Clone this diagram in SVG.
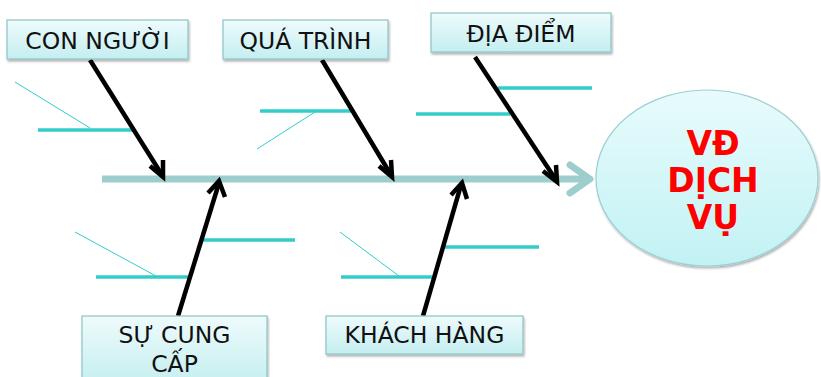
<svg xmlns="http://www.w3.org/2000/svg" width="821" height="377" viewBox="0 0 821 377">
<defs>
<linearGradient id="boxg" x1="0" y1="0" x2="0" y2="1">
<stop offset="0" stop-color="#eefbfc"/>
<stop offset="1" stop-color="#c4eef0"/>
</linearGradient>
<linearGradient id="ellg" x1="0" y1="0" x2="0" y2="1">
<stop offset="0" stop-color="#e8fbfc"/>
<stop offset="1" stop-color="#c2f2f4"/>
</linearGradient>
<filter id="sh" x="-10%" y="-10%" width="130%" height="140%">
<feDropShadow dx="1" dy="2" stdDeviation="1.2" flood-color="#000" flood-opacity="0.3"/>
</filter>
</defs>
<style>
.box{fill:url(#boxg);stroke:#8fc3c4;stroke-width:1.2;filter:url(#sh)}
.lbl{font-family:"DejaVu Sans",Verdana,sans-serif;font-size:23.5px;fill:#111;text-anchor:middle}
.arr{stroke:#000;stroke-width:4.5;fill:none;stroke-linecap:butt}
.head{stroke:#000;stroke-width:4.5;fill:none;stroke-linejoin:miter}
.bone{stroke:#33cccc;stroke-width:3.5}
.thin{stroke:#33cccc;stroke-width:1}
.eff{font-family:"DejaVu Sans",Verdana,sans-serif;font-size:33px;font-weight:bold;fill:#ff0000;text-anchor:middle}
</style>
<rect width="821" height="377" fill="#fff"/>
<g id="sub-bones">
<line class="bone" x1="38" y1="130" x2="133" y2="130"/>
<line class="thin" x1="15" y1="82" x2="90" y2="128"/>
<line class="bone" x1="260" y1="111" x2="354" y2="111"/>
<line class="thin" x1="257" y1="149" x2="315" y2="112"/>
<line class="bone" x1="498" y1="88" x2="592" y2="88"/>
<line class="bone" x1="416" y1="114" x2="510" y2="114"/>
<line class="bone" x1="200" y1="240" x2="295" y2="240"/>
<line class="bone" x1="96" y1="277" x2="191" y2="277"/>
<line class="thin" x1="75" y1="232" x2="156" y2="276"/>
<line class="bone" x1="444" y1="247" x2="539" y2="247"/>
<line class="bone" x1="341" y1="277" x2="436" y2="277"/>
<line class="thin" x1="340" y1="232" x2="399" y2="276"/>
</g>
<g id="spine">
<line x1="102" y1="179" x2="588" y2="179" stroke="#9dcdcd" stroke-width="7"/>
<polyline points="570,165 590,179 570,193" fill="none" stroke="#9dcdcd" stroke-width="7" stroke-linecap="round" stroke-linejoin="round"/>
</g>
<g id="effect">
<ellipse cx="707" cy="178" rx="111" ry="88" fill="url(#ellg)" stroke="#9cd0d2" stroke-width="1.2" filter="url(#sh)"/>
<text class="eff" x="713" y="155">VĐ</text>
<text class="eff" x="713" y="192">DỊCH</text>
<text class="eff" x="713" y="229">VỤ</text>
</g>
<g id="connectors">
<line class="arr" x1="90" y1="60" x2="162" y2="175"/>
<polyline class="head" points="150,166 163,177 163,160"/>
<line class="arr" x1="322" y1="60" x2="391" y2="175"/>
<polyline class="head" points="379,166 392,177 391,160"/>
<line class="arr" x1="475" y1="57" x2="556" y2="180"/>
<polyline class="head" points="543,171 557,182 556,165"/>
<line class="arr" x1="178" y1="316" x2="219" y2="183"/>
<polyline class="head" points="208,193 219,181 225,197"/>
<line class="arr" x1="423" y1="316" x2="461" y2="185"/>
<polyline class="head" points="451,195 462,183 467,199"/>
</g>
<g id="con-nguoi">
<rect class="box" x="7" y="20" width="181" height="39"/>
<text class="lbl" x="97.5" y="49">CON NGƯỜI</text>
</g>
<g id="qua-trinh">
<rect class="box" x="223" y="20" width="165" height="39"/>
<text class="lbl" x="305.5" y="49">QUÁ TRÌNH</text>
</g>
<g id="dia-diem">
<rect class="box" x="431" y="13" width="180" height="39"/>
<text class="lbl" x="521" y="42">ĐỊA ĐIỂM</text>
</g>
<g id="su-cung-cap">
<rect class="box" x="82" y="316" width="185" height="70"/>
<text class="lbl" x="174.5" y="343">SỰ CUNG</text>
<text class="lbl" x="174.5" y="372">CẤP</text>
</g>
<g id="khach-hang">
<rect class="box" x="326" y="316" width="197" height="38"/>
<text class="lbl" x="424.5" y="343">KHÁCH HÀNG</text>
</g>
</svg>
